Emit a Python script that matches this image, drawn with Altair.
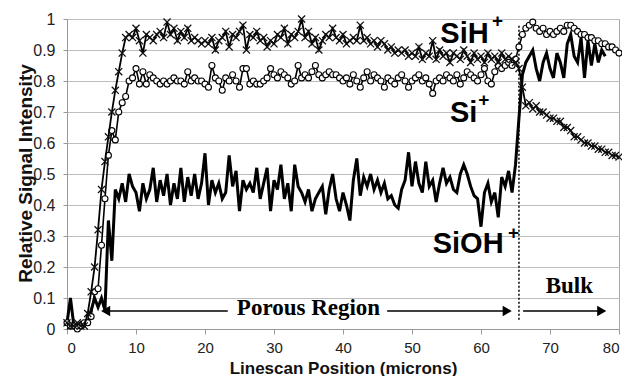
import altair as alt
import pandas as pd

# sampling positions (microns), 0.5 micron step
positions = [i / 2 for i in range(161)]

sih = [
    0.02, 0.01, 0.01, 0.02, 0.01, 0.01, 0.05, 0.12, 0.20, 0.32, 0.45, 0.54, 0.62, 0.70, 0.77, 0.83, 0.89, 0.94, 0.95, 0.94,
    0.97, 0.93, 0.89, 0.95, 0.94, 0.93, 0.95, 0.96, 0.94, 0.99, 0.95, 0.97, 0.93, 0.96, 0.94, 0.97, 0.93, 0.94, 0.93, 0.92,
    0.93, 0.92, 0.94, 0.90, 0.93, 0.94, 0.96, 0.91, 0.95, 0.94, 0.96, 0.98, 0.90, 0.95, 0.94, 0.96, 0.93, 0.94, 0.91, 0.93,
    0.92, 0.95, 0.94, 0.97, 0.92, 0.95, 0.94, 0.96, 1.00, 0.94, 0.96, 0.92, 0.94, 0.90, 0.93, 0.95, 0.94, 0.97, 0.94, 0.93,
    0.95, 0.92, 0.93, 0.94, 0.93, 0.98, 0.93, 0.94, 0.92, 0.93, 0.91, 0.93, 0.92, 0.90, 0.91, 0.89, 0.90, 0.89, 0.90, 0.88,
    0.89, 0.88, 0.91, 0.87, 0.89, 0.88, 0.93, 0.87, 0.90, 0.88, 0.89, 0.86, 0.89, 0.88, 0.87, 0.90, 0.88, 0.86, 0.89, 0.87,
    0.88, 0.86, 0.89, 0.87, 0.88, 0.86, 0.89, 0.87, 0.88, 0.87, 0.86, 0.84, 0.78, 0.72, 0.73, 0.71, 0.72, 0.70, 0.70, 0.69,
    0.68, 0.68, 0.67, 0.67, 0.65, 0.65, 0.64, 0.62, 0.62, 0.61, 0.60, 0.60, 0.59, 0.59, 0.58, 0.58, 0.57, 0.57, 0.56, 0.56,
    0.555,
]

si = [
    0.02, 0.01, 0.01, 0.00, 0.01, 0.02, 0.02, 0.04, 0.12, 0.13, 0.27, 0.42, 0.56, 0.64, 0.61, 0.70, 0.73, 0.75, 0.80, 0.81,
    0.84, 0.79, 0.83, 0.79, 0.82, 0.81, 0.80, 0.79, 0.80, 0.79, 0.80, 0.81, 0.80, 0.80, 0.79, 0.83, 0.80, 0.81, 0.80, 0.80,
    0.79, 0.78, 0.85, 0.81, 0.80, 0.77, 0.81, 0.80, 0.82, 0.80, 0.78, 0.84, 0.84, 0.79, 0.80, 0.79, 0.79, 0.80, 0.81, 0.84,
    0.82, 0.81, 0.83, 0.82, 0.81, 0.79, 0.80, 0.85, 0.81, 0.82, 0.81, 0.83, 0.85, 0.82, 0.81, 0.82, 0.83, 0.82, 0.82, 0.81,
    0.80, 0.81, 0.79, 0.82, 0.80, 0.78, 0.81, 0.83, 0.80, 0.82, 0.81, 0.80, 0.78, 0.81, 0.80, 0.79, 0.81, 0.82, 0.80, 0.78,
    0.80, 0.81, 0.82, 0.80, 0.81, 0.79, 0.76, 0.80, 0.81, 0.80, 0.82, 0.81, 0.80, 0.82, 0.79, 0.81, 0.83, 0.82, 0.81, 0.80,
    0.82, 0.84, 0.80, 0.79, 0.83, 0.85, 0.84, 0.85, 0.86, 0.85, 0.87, 0.91, 0.95, 0.97, 0.98, 0.99, 0.97, 0.96, 0.97, 0.95,
    0.96, 0.95, 0.96, 0.97, 0.96, 0.98, 0.98, 0.97, 0.96, 0.95, 0.95, 0.94, 0.94, 0.93, 0.93, 0.92, 0.92, 0.91, 0.91, 0.90,
    0.89,
]

sioh = [
    0.02, 0.10, 0.01, 0.01, 0.02, 0.01, 0.02, 0.06, 0.10, 0.07, 0.10, 0.06, 0.35, 0.22, 0.45, 0.42, 0.47, 0.41, 0.50, 0.46,
    0.44, 0.38, 0.47, 0.42, 0.45, 0.52, 0.41, 0.48, 0.43, 0.50, 0.40, 0.47, 0.42, 0.52, 0.41, 0.49, 0.43, 0.50, 0.42, 0.47,
    0.567, 0.40, 0.48, 0.44, 0.47, 0.42, 0.44, 0.56, 0.46, 0.51, 0.38, 0.48, 0.45, 0.47, 0.44, 0.52, 0.42, 0.47, 0.52, 0.38,
    0.48, 0.45, 0.53, 0.42, 0.47, 0.38, 0.53, 0.46, 0.44, 0.41, 0.45, 0.38, 0.42, 0.44, 0.46, 0.37, 0.45, 0.50, 0.42, 0.38,
    0.44, 0.40, 0.35, 0.48, 0.55, 0.43, 0.49, 0.46, 0.50, 0.45, 0.48, 0.44, 0.47, 0.42, 0.43, 0.40, 0.39, 0.45, 0.48, 0.57,
    0.46, 0.54, 0.47, 0.44, 0.54, 0.46, 0.48, 0.41, 0.47, 0.52, 0.47, 0.49, 0.45, 0.44, 0.50, 0.53, 0.50, 0.46, 0.43, 0.42,
    0.33, 0.44, 0.47, 0.41, 0.44, 0.36, 0.49, 0.46, 0.51, 0.44, 0.53, 0.68, 0.82, 0.86, 0.88, 0.90, 0.84, 0.80, 0.86, 0.89,
    0.84, 0.81, 0.89, 0.86, 0.81, 0.92, 0.95, 0.88, 0.86, 0.94, 0.81, 0.93, 0.85, 0.92, 0.86, 0.90, 0.88, None, None, None,
    None,
]

x_ticks = [0, 10, 20, 30, 40, 50, 60, 70, 80]
y_ticks = [0, 0.1, 0.2, 0.3, 0.4, 0.5, 0.6, 0.7, 0.8, 0.9, 1]

# annotation texts (data coordinates)
label_text = ["SiH", "Si", "SiOH"]
label_x = [54.1, 55.5, 53.0]
label_y = [0.923, 0.668, 0.245]
plus_x = [61.6, 59.6, 63.9]
plus_y = [0.975, 0.72, 0.29]

region_text = ["Porous Region", "Bulk"]
region_x = [35.0, 72.8]
region_y = [0.045, 0.116]

arrow_x1 = [5.6, 46.4, 66.1]
arrow_x2 = [23.3, 63.8, 77.5]
arrow_y = 0.058
head_x = [5.6, 63.8, 77.5]
head_shape = ["triangle-left", "triangle-right", "triangle-right"]

boundary_x = 65.5

df = pd.DataFrame({"x": positions, "sih": sih, "si": si, "sioh": sioh})

xscale = alt.Scale(domain=[0, 80], nice=False)
yscale = alt.Scale(domain=[0, 1], nice=False)

x_axis = alt.Axis(values=x_ticks, title="Linescan Position (microns)", grid=False,
                  tickSize=5, tickColor="#999999", domainColor="#999999",
                  labelFont="Liberation Sans", labelFontSize=15, labelColor="#222222",
                  labelPadding=6, labelOverlap=False,
                  titleFont="Liberation Sans", titleFontSize=17, titleFontWeight="bold",
                  titleColor="#111111", titleX=276, titleY=39, titleBaseline="middle",
                  titleAlign="center")

y_axis = alt.Axis(values=y_ticks, format=".1~f", title="Relative Signal Intensity",
                  grid=True, gridColor="#bdbdbd", tickSize=4, tickColor="#999999",
                  domainColor="#999999", labelOverlap=False,
                  labelFont="Liberation Sans", labelFontSize=16, labelColor="#222222",
                  labelPadding=8,
                  titleFont="Liberation Sans", titleFontSize=19, titleFontWeight="bold",
                  titleColor="#111111", titleX=-42, titleY=154, titleAngle=-90,
                  titleAlign="center", titleBaseline="middle")


def X(field):
    return alt.X(field, type="quantitative", scale=xscale, axis=x_axis)


def Y(field):
    return alt.Y(field, type="quantitative", scale=yscale, axis=y_axis)


base = alt.Chart(df)

sioh_line = base.transform_filter("datum.sioh != null").mark_line(
    color="black", strokeWidth=3, strokeJoin="miter"
).encode(x=X("x"), y=Y("sioh"))

si_line = base.mark_line(color="black", strokeWidth=1.6).encode(x=X("x"), y=Y("si"))
si_pts = base.mark_point(shape="circle", filled=True, fill="white", stroke="black",
                         strokeWidth=1.1, size=36, opacity=1).encode(x=X("x"), y=Y("si"))

sih_line = base.mark_line(color="black", strokeWidth=1.8).encode(x=X("x"), y=Y("sih"))
sih_pts = base.mark_point(shape="M-1,-1L1,1M-1,1L1,-1", filled=False, stroke="#111111",
                          strokeWidth=1.3, size=50, opacity=1).encode(x=X("x"), y=Y("sih"))

bdf = pd.DataFrame({"x": [boundary_x], "y1": [0.03], "y2": [0.985]})
boundary = alt.Chart(bdf).mark_rule(color="black", strokeWidth=1.5, strokeDash=[2, 2]).encode(
    x=X("x"), y=Y("y1"), y2="y2:Q")

ldf = pd.DataFrame({"t": label_text, "x": label_x, "y": label_y})
labels = alt.Chart(ldf).mark_text(font="Liberation Sans", fontWeight="bold", fontSize=29,
                                  align="left", baseline="alphabetic", color="black").encode(
    x=X("x"), y=Y("y"), text="t:N")

pdf = pd.DataFrame({"t": ["+", "+", "+"], "x": plus_x, "y": plus_y})
pluses = alt.Chart(pdf).mark_text(font="Liberation Sans", fontWeight="bold", fontSize=19,
                                  align="left", baseline="alphabetic", color="black").encode(
    x=X("x"), y=Y("y"), text="t:N")

rdf = pd.DataFrame({"t": region_text, "x": region_x, "y": region_y})
regions = alt.Chart(rdf).mark_text(font="Liberation Serif", fontWeight="bold", fontSize=23,
                                   align="center", baseline="alphabetic", color="black").encode(
    x=X("x"), y=Y("y"), text="t:N")

adf = pd.DataFrame({"x1": arrow_x1, "x2": arrow_x2, "y": [arrow_y] * 3})
arrows = alt.Chart(adf).mark_rule(color="black", strokeWidth=1.5).encode(
    x=X("x1"), x2="x2:Q", y=Y("y"))

hdf = pd.DataFrame({"x": head_x, "y": [arrow_y] * 3, "s": head_shape})
heads = alt.Chart(hdf).mark_point(filled=True, color="black", size=110, opacity=1).encode(
    x=X("x"), y=Y("y"),
    shape=alt.Shape("s:N", scale=None, legend=None))

chart = alt.layer(
    boundary, sioh_line, si_line, si_pts, sih_line, sih_pts,
    labels, pluses, regions, arrows, heads
).properties(
    width=552, height=310,
    autosize=alt.AutoSizeParams(type="none"),
    padding={"left": 59, "top": 11, "right": 3, "bottom": 47},
    background="white",
).configure_view(stroke="#a8a8a8", strokeWidth=1)

chart.save("out.html", embed_options={"renderer": "svg", "actions": False})
